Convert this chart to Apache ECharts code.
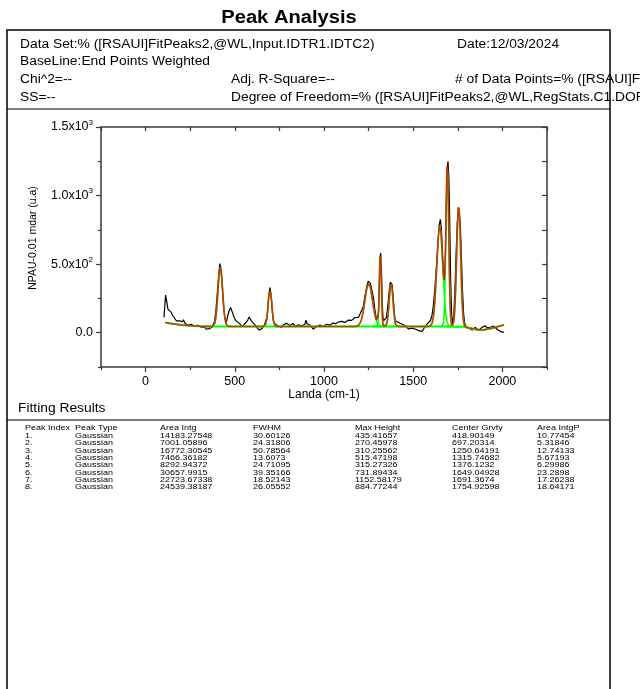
<!DOCTYPE html>
<html>
<head>
<meta charset="utf-8">
<title>Peak Analysis</title>
<script src="https://cdn.jsdelivr.net/npm/echarts@6/dist/echarts.min.js"></script>
<style>
  html, body { margin: 0; padding: 0; background: #fff; }
  #chart { width: 640px; height: 689px; }
</style>
</head>
<body>
<div id="chart"></div>
<script>
// ---- Measured spectrum (Landa in cm-1, intensity in u.a) ----
const landa = [103,112,118,125,135,144,153,163,172,182,191,200,206,212,220,229,238,247,256,266,275,285,294,303,312,322,331,341,350,356,360,366,372,378,386,394,402,410,416,422,430,437,444,452,460,468,476,482,487,496,506,515,524,534,543,552,562,572,580,584,590,599,609,618,625,631,637,646,652,656,665,674,682,690,697,704,710,716,725,734,743,752,762,771,781,790,799,809,818,827,837,846,855,865,874,884,892,899,905,912,921,930,940,946,949,958,968,977,987,996,1006,1015,1024,1034,1043,1050,1056,1064,1071,1080,1090,1099,1109,1118,1127,1137,1146,1155,1165,1174,1184,1193,1202,1212,1220,1230,1240,1248,1253,1260,1268,1277,1285,1292,1297,1301,1306,1311,1315,1318,1322,1326,1330,1333,1340,1343,1350,1358,1366,1372,1376,1382,1388,1394,1399,1408,1418,1427,1436,1446,1455,1465,1474,1483,1492,1502,1511,1520,1530,1540,1549,1558,1568,1577,1586,1596,1605,1613,1622,1630,1638,1645,1652,1658,1664,1669,1674,1680,1685,1690,1695,1700,1705,1710,1715,1721,1727,1733,1740,1747,1754,1758,1764,1770,1776,1782,1787,1792,1801,1811,1820,1830,1839,1848,1858,1867,1876,1886,1895,1904,1914,1923,1932,1942,1951,1960,1970,1979,1988,1998,2008];
const intensity = [111,274,230,172,184,148,124,111,87,99,87,100,80,95,70,63,55,51,62,58,45,44,55,48,40,51,40,25,15,30,34,20,40,51,80,160,290,430,504,470,330,190,110,75,120,160,184,170,148,111,87,75,70,58,44,60,58,90,115,124,102,75,63,51,35,27,20,15,30,39,51,60,120,260,330,270,160,87,63,55,51,45,39,55,63,70,75,51,60,68,45,51,58,63,50,39,60,92,65,51,55,58,27,39,34,45,44,55,51,45,51,62,58,55,63,72,75,65,68,78,75,83,87,75,82,92,99,90,87,111,100,111,136,148,190,270,340,375,383,360,310,257,170,111,95,87,150,400,560,580,470,250,120,87,78,75,110,200,310,370,383,350,260,150,87,80,75,68,63,60,51,40,27,35,34,25,27,30,15,25,10,27,40,63,70,87,124,200,330,480,640,780,827,760,600,450,380,500,900,1180,1250,1130,800,380,150,63,110,280,560,800,910,924,800,560,320,150,80,51,45,34,25,20,30,39,25,20,30,39,45,51,35,27,40,44,48,39,25,15,10,2,2];

// ---- Baseline (End Points Weighted) anchor points ----
const baseX = [110,150,200,250,300,400,1700,1780,1820,1860,1890,1940,2010];
const baseY = [75,65,57,51,47,45,45,43,33,22,20,32,57];

// ---- Fitting results ----
const peakIndex   = ['1.','2.','3.','4.','5.','6.','7.','8.'];
const peakType    = ['Gaussian','Gaussian','Gaussian','Gaussian','Gaussian','Gaussian','Gaussian','Gaussian'];
const areaIntg    = ['14183.27548','7001.05896','16772.30545','7466.36182','8292.94372','30657.9915','22723.67338','24539.38187'];
const fwhm        = [30.60126,24.31806,50.78564,13.6073,24.71095,39.35166,18.52143,26.05552];
const maxHeight   = [435.41657,270.45978,310.25562,515.47198,315.27326,731.89434,1152.58179,884.77244];
const centerGrvty = [418.90149,697.20314,1250.64191,1315.74682,1376.1232,1649.04928,1691.3674,1754.92598];
const areaIntgP   = ['10.77454','5.31846','12.74133','5.67193','6.29986','23.2898','17.26238','18.64171'];
const tableHeader = ['Peak Index','Peak Type','Area Intg','FWHM','Max Height','Center Grvty','Area IntgP'];

// ---- Axis ticks ----
const xMajor = [0,500,1000,1500,2000];
const xMinor = [-250,250,750,1250,1750,2250];
const yMajor = [0,500,1000,1500];
const yMinor = [-250,250,750,1250];
const yMantissa = ['0.0','5.0x10','1.0x10','1.5x10'];
const yExponent = ['','2','3','3'];

const FONT = '"Liberation Sans", Arial, sans-serif';
const SX = 1.15;   // report text is set slightly wide

// Fit model: Gaussian peaks on top of the baseline
function baselineAt(x) {
  if (x <= baseX[0]) return baseY[0];
  for (let i = 1; i < baseX.length; i++) {
    if (x <= baseX[i]) {
      const t = (x - baseX[i - 1]) / (baseX[i] - baseX[i - 1]);
      return baseY[i - 1] + t * (baseY[i] - baseY[i - 1]);
    }
  }
  return baseY[baseY.length - 1];
}
function peakAt(k, x) {
  const s = fwhm[k] / (2 * Math.sqrt(2 * Math.LN2));
  const d = (x - centerGrvty[k]) / s;
  return maxHeight[k] * Math.exp(-0.5 * d * d);
}

const fitStart = 110, fitEnd = 2010;
const cumulative = [];
for (let x = fitStart; x <= fitEnd; x += 1) {
  let y = baselineAt(x);
  for (let k = 0; k < centerGrvty.length; k++) y += peakAt(k, x);
  cumulative.push([x, y]);
}
const peakSeries = centerGrvty.map((c, k) => {
  const pts = [];
  const lo = Math.max(fitStart, Math.floor(c - 3 * fwhm[k]));
  const hi = Math.min(fitEnd, Math.ceil(c + 3 * fwhm[k]));
  for (let x = lo; x <= hi; x += 1) pts.push([x, baselineAt(x) + peakAt(k, x)]);
  return {
    type: 'line', data: pts, showSymbol: false, silent: true, z: 3,
    lineStyle: { color: '#00ff00', width: 1.5 }
  };
});

const frameColor = '#3a3a3a';

// ---- Report text and frame ----
function txt(x, y, s, size, extra) {
  return Object.assign({
    type: 'text', x: x, y: y, scaleX: SX, silent: true,
    style: { text: s, font: size + 'px ' + FONT, fill: '#000', verticalAlign: 'middle', align: 'left' }
  }, extra || {});
}
const graphics = [
  { type: 'rect', shape: { x: 7, y: 30, width: 603, height: 680 }, silent: true,
    style: { fill: 'none', stroke: '#000', lineWidth: 1.5 } },
  { type: 'line', shape: { x1: 7, y1: 109, x2: 610, y2: 109 }, silent: true,
    style: { stroke: '#000', lineWidth: 1.2 } },
  { type: 'line', shape: { x1: 7, y1: 420, x2: 610, y2: 420 }, silent: true,
    style: { stroke: '#000', lineWidth: 1.2 } },
  { type: 'text', x: 289, y: 18, scaleX: SX, silent: true,
    style: { text: 'Peak Analysis', font: 'bold 17.5px ' + FONT, fill: '#000', align: 'center', verticalAlign: 'middle' } },
  txt(20, 45, 'Data Set:% ([RSAUI]FitPeaks2,@WL,Input.IDTR1.IDTC2)', 12),
  txt(457, 45, 'Date:12/03/2024', 12),
  txt(20, 62, 'BaseLine:End Points Weighted', 12),
  txt(20, 80, 'Chi^2=--', 12),
  txt(231, 80, 'Adj. R-Square=--', 12),
  txt(455, 80, '# of Data Points=% ([RSAUI]FitPeaks2,@WL,RegStats.C1.N)', 12),
  txt(20, 98, 'SS=--', 12),
  txt(231, 98, 'Degree of Freedom=% ([RSAUI]FitPeaks2,@WL,RegStats.C1.DOF)', 12),
  txt(18, 409, 'Fitting Results', 12),
  // axis titles
  { type: 'text', x: 33, y: 238, rotation: Math.PI / 2, silent: true,
    style: { text: 'NPAU-0.01 mdar (u.a)', font: '10.5px ' + FONT, fill: '#000', align: 'center', verticalAlign: 'middle' } },
  { type: 'text', x: 324, y: 395, silent: true,
    style: { text: 'Landa (cm-1)', font: '12px ' + FONT, fill: '#000', align: 'center', verticalAlign: 'middle' } }
];

// table columns
const colX = [25, 75, 160, 253, 355, 452, 537];
const tableCols = [peakIndex, peakType, areaIntg, fwhm.map(String), maxHeight.map(String), centerGrvty.map(String), areaIntgP];
tableHeader.forEach((h, c) => graphics.push(txt(colX[c], 428, h, 7.8)));
for (let r = 0; r < peakIndex.length; r++) {
  for (let c = 0; c < tableCols.length; c++) {
    graphics.push(txt(colX[c], 436 + r * 7.3, tableCols[c][r], 7.8));
  }
}

const chart = echarts.init(document.getElementById('chart'));
const hiddenLine = { show: false, onZero: false };
chart.setOption({
  animation: false,
  backgroundColor: '#fff',
  grid: { left: 101, right: 93, top: 127, bottom: 322, containLabel: false },
  xAxis: [
    { type: 'value', min: -250, max: 2250, position: 'bottom',
      axisLine: { show: true, onZero: false, lineStyle: { color: frameColor, width: 1.5 } },
      axisTick: { show: true, customValues: xMajor, length: 5, lineStyle: { color: frameColor, width: 1.2 } },
      axisLabel: { customValues: xMajor, margin: 8, color: '#000', fontSize: 12.5, fontFamily: FONT,
        formatter: v => String(v) },
      splitLine: { show: false } },
    { type: 'value', min: -250, max: 2250, position: 'bottom',
      axisLine: hiddenLine,
      axisTick: { show: true, customValues: xMinor, length: 3, lineStyle: { color: frameColor, width: 1.2 } },
      axisLabel: { show: false }, splitLine: { show: false } },
    { type: 'value', min: -250, max: 2250, position: 'top',
      axisLine: { show: true, onZero: false, lineStyle: { color: frameColor, width: 1.5 } },
      axisTick: { show: true, inside: true, customValues: xMajor.concat(xMinor), length: 4, lineStyle: { color: frameColor, width: 1.2 } },
      axisLabel: { show: false }, splitLine: { show: false } }
  ],
  yAxis: [
    { type: 'value', min: -250, max: 1500, position: 'left',
      axisLine: { show: true, onZero: false, lineStyle: { color: frameColor, width: 1.5 } },
      axisTick: { show: true, customValues: yMajor, length: 5, lineStyle: { color: frameColor, width: 1.2 } },
      axisLabel: {
        customValues: yMajor, margin: 8, color: '#000', fontSize: 12.5, fontFamily: FONT,
        formatter: v => {
          const i = yMajor.indexOf(v);
          return yExponent[i] ? yMantissa[i] + '{e|' + yExponent[i] + '}' : yMantissa[i];
        },
        rich: { e: { fontSize: 8, fontFamily: FONT, color: '#000', verticalAlign: 'top', padding: [0, 0, 9, 0] } }
      },
      splitLine: { show: false } },
    { type: 'value', min: -250, max: 1500, position: 'left',
      axisLine: hiddenLine,
      axisTick: { show: true, customValues: yMinor, length: 3, lineStyle: { color: frameColor, width: 1.2 } },
      axisLabel: { show: false }, splitLine: { show: false } },
    { type: 'value', min: -250, max: 1500, position: 'right',
      axisLine: { show: true, onZero: false, lineStyle: { color: frameColor, width: 1.5 } },
      axisTick: { show: true, inside: true, customValues: yMajor.concat(yMinor), length: 5, lineStyle: { color: frameColor, width: 1.2 } },
      axisLabel: { show: false }, splitLine: { show: false } }
  ],
  series: [
    { name: 'Spectrum', type: 'line', data: landa.map((x, i) => [x, intensity[i]]),
      showSymbol: false, silent: true, z: 2,
      lineStyle: { color: '#000', width: 1.2 } },
    { name: 'Baseline', type: 'line', data: baseX.map((x, i) => [x, baseY[i]]),
      showSymbol: false, silent: true, z: 3,
      lineStyle: { color: '#00ff00', width: 2 } }
  ].concat(peakSeries).concat([
    { name: 'Cumulative Fit', type: 'line', data: cumulative,
      showSymbol: false, silent: true, z: 4,
      lineStyle: { color: '#ff0000', width: 1.6, opacity: 0.75 } }
  ]),
  graphic: graphics
});
</script>
</body>
</html>
